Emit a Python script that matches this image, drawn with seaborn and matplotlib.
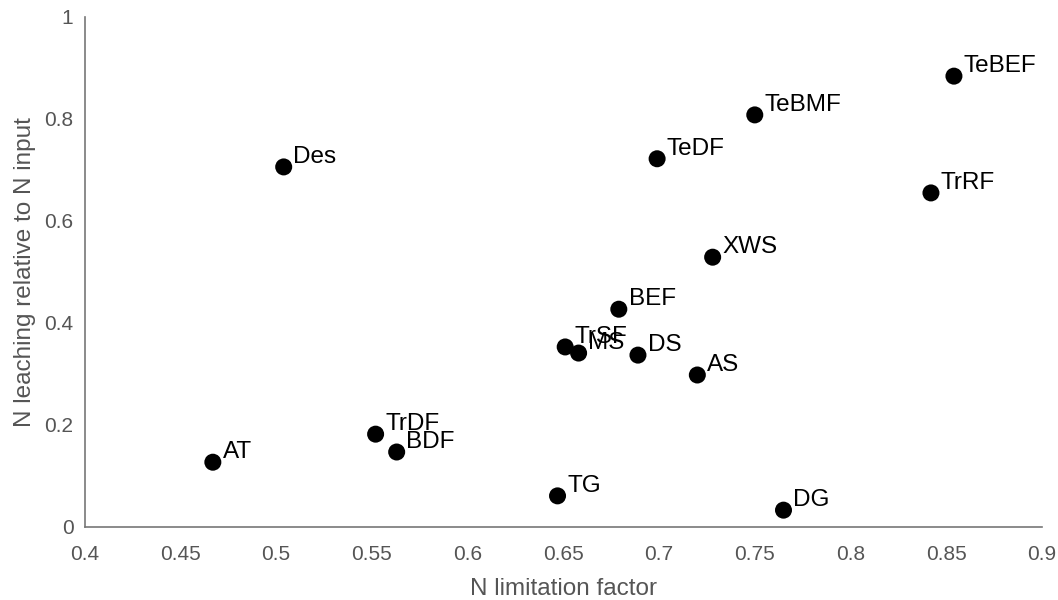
import matplotlib
matplotlib.use("Agg")
import matplotlib.pyplot as plt
import pandas as pd
import seaborn as sns

# data
biomes = ["AT", "Des", "TrDF", "BDF", "TG", "TrSF", "MS", "BEF", "DS",
          "TeDF", "AS", "XWS", "TeBMF", "DG", "TrRF", "TeBEF"]
n_limitation = [0.467, 0.504, 0.552, 0.563, 0.647, 0.651, 0.658, 0.679, 0.689,
                0.699, 0.720, 0.728, 0.750, 0.765, 0.842, 0.854]
n_leaching = [0.127, 0.706, 0.182, 0.147, 0.061, 0.353, 0.341, 0.427, 0.337,
              0.722, 0.298, 0.529, 0.808, 0.033, 0.655, 0.884]
x_ticks = [0.4, 0.45, 0.5, 0.55, 0.6, 0.65, 0.7, 0.75, 0.8, 0.85, 0.9]
y_ticks = [0, 0.2, 0.4, 0.6, 0.8, 1]

df = pd.DataFrame({"biome": biomes, "x": n_limitation, "y": n_leaching})

sns.set_style("white")
plt.rcParams["font.family"] = ["Liberation Sans", "DejaVu Sans"]

fig = plt.figure(figsize=(10.58, 6), dpi=100)
ax = fig.add_axes([0.0799, 0.1217, 0.905, 0.85])

sns.scatterplot(data=df, x="x", y="y", ax=ax, color="black", s=150,
                edgecolor="none", zorder=3)

# labels sit just up and right of each point (overlaps as in the original)
for _, r in df.iterrows():
    ax.annotate(r["biome"], (r["x"], r["y"]), xytext=(7, 3),
                textcoords="offset points", fontsize=17.5, color="black",
                va="baseline", ha="left")

ax.set_xlim(0.4, 0.9)
ax.set_ylim(0, 1)
ax.set_xticks(x_ticks)
ax.set_xticklabels([f"{t:g}" for t in x_ticks])
ax.set_yticks(y_ticks)
ax.set_yticklabels([f"{t:g}" for t in y_ticks])

gray = "#555555"
for side in ["top", "right"]:
    ax.spines[side].set_visible(False)
for side in ["left", "bottom"]:
    ax.spines[side].set_color("#777777")
    ax.spines[side].set_linewidth(1.2)
ax.tick_params(direction="in", length=7, width=1.2, colors="#777777",
               labelcolor=gray, labelsize=15)
ax.tick_params(axis="x", pad=13)
ax.tick_params(axis="y", pad=8)

ax.set_xlabel("N limitation factor", fontsize=17.5, color=gray, labelpad=10)
ax.set_ylabel("N leaching relative to N input", fontsize=17.5, color=gray, labelpad=6)

fig.savefig("out.png", dpi=100)
